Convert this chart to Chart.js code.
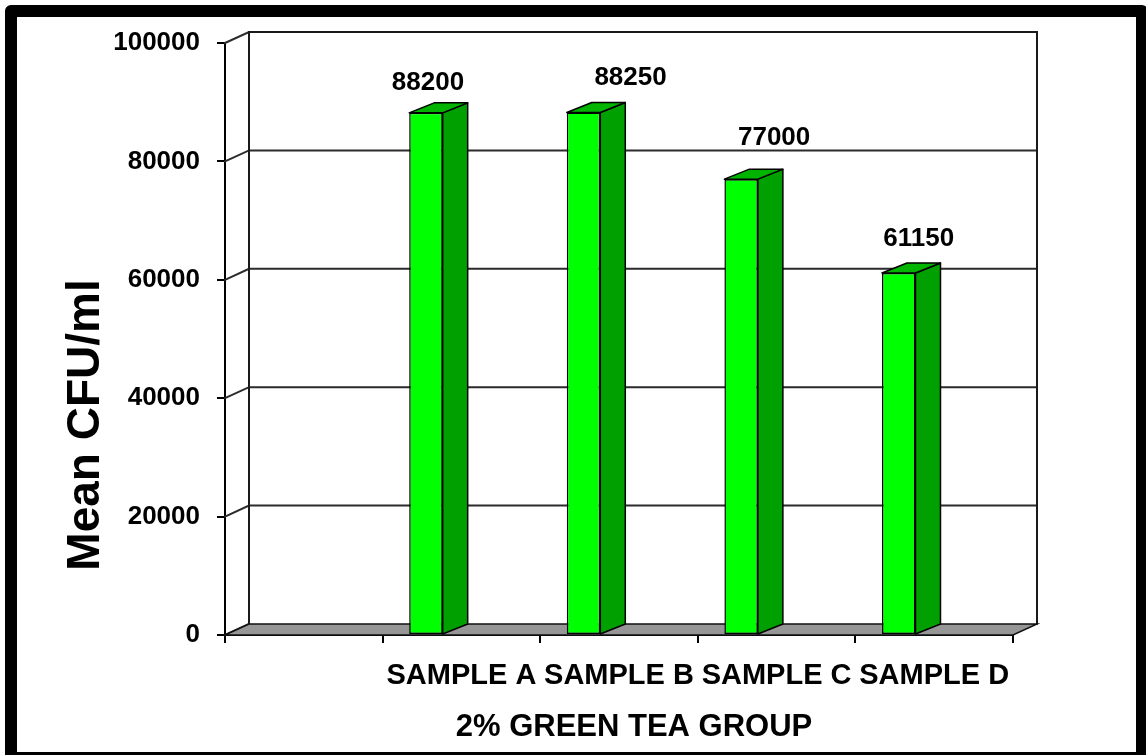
<!DOCTYPE html>
<html>
<head>
<meta charset="utf-8">
<title>2% Green Tea Group - Mean CFU/ml</title>
<script src="https://cdn.jsdelivr.net/npm/chart.js@4.4.1/dist/chart.umd.min.js"></script>
<style>
  html, body { margin: 0; padding: 0; background: #ffffff; }
  #wrap { width: 1146px; height: 755px; position: relative; }
  canvas { display: block; }
</style>
</head>
<body>
<div id="wrap"><canvas id="chart" width="1146" height="755"></canvas></div>
<script>
// ---- data ----
const categories = ['', 'SAMPLE A', 'SAMPLE B', 'SAMPLE C', 'SAMPLE D'];
const meanCfu = [null, 88200, 88250, 77000, 61150];
const yTickValues = [0, 20000, 40000, 60000, 80000, 100000];
const yAxisTitle = 'Mean CFU/ml';
const xAxisTitle = '2% GREEN TEA GROUP';

const FONT = '"Liberation Sans", Arial, Helvetica, sans-serif';
Chart.defaults.font.family = FONT;
Chart.defaults.color = '#000';

// 3-D look: walls, floor, side/top faces of the columns, value labels, frame
const box3d = {
  id: 'box3d',
  afterDatasetsUpdate(chart, args, opts) {
    // columns sit toward the front-left of each category slot
    const xs = chart.scales.x;
    const slot = xs.width / categories.length;
    chart.getDatasetMeta(0).data.forEach(el => { el.x -= slot * opts.shift; });
  },
  beforeDraw(chart) {
    const ctx = chart.ctx;
    ctx.save();
    ctx.fillStyle = '#fff';
    ctx.fillRect(0, 0, chart.width, chart.height);
    ctx.restore();
  },
  beforeDatasetsDraw(chart, args, opts) {
    const ctx = chart.ctx;
    const { left, right } = chart.chartArea;
    const y = chart.scales.y;
    const dx = opts.wallDx, dy = opts.wallDy;
    const top = y.getPixelForValue(y.max);
    const base = y.getPixelForValue(0);
    ctx.save();
    // back wall grid lines and side-wall connectors
    ctx.lineCap = 'round';
    yTickValues.forEach(v => {
      const py = y.getPixelForValue(v);
      ctx.strokeStyle = '#2b2b2b';
      ctx.lineWidth = 2;
      ctx.beginPath();
      ctx.moveTo(left, py);
      ctx.lineTo(left + dx, py + dy);
      if (v > 0) ctx.lineTo(right + dx, py + dy);
      ctx.stroke();
    });
    // wall edges
    ctx.strokeStyle = '#1a1a1a';
    ctx.lineWidth = 2;
    ctx.beginPath();
    ctx.moveTo(left + dx, base + dy);
    ctx.lineTo(left + dx, top + dy);
    ctx.lineTo(right + dx, top + dy);
    ctx.lineTo(right + dx, base + dy);
    ctx.stroke();
    // floor
    ctx.fillStyle = '#969696';
    ctx.beginPath();
    ctx.moveTo(left, base);
    ctx.lineTo(right, base);
    ctx.lineTo(right + dx, base + dy);
    ctx.lineTo(left + dx, base + dy);
    ctx.closePath();
    ctx.fill();
    ctx.strokeStyle = '#111';
    ctx.lineWidth = 1.5;
    ctx.stroke();
    ctx.restore();
  },
  afterDatasetsDraw(chart, args, opts) {
    const ctx = chart.ctx;
    const meta = chart.getDatasetMeta(0);
    const dx = opts.barDx, dy = opts.barDy;
    ctx.save();
    ctx.lineJoin = 'round';
    ctx.strokeStyle = '#000';
    ctx.lineWidth = 1.5;
    meta.data.forEach((el, i) => {
      if (meanCfu[i] == null) return;
      const p = el.getProps(['x', 'y', 'base', 'width'], true);
      const l = p.x - p.width / 2, r = p.x + p.width / 2;
      // side face
      ctx.fillStyle = opts.sideColor;
      ctx.beginPath();
      ctx.moveTo(r, p.y);
      ctx.lineTo(r + dx, p.y + dy);
      ctx.lineTo(r + dx, p.base + dy);
      ctx.lineTo(r, p.base);
      ctx.closePath();
      ctx.fill();
      ctx.stroke();
      // top face
      ctx.fillStyle = opts.topColor;
      ctx.beginPath();
      ctx.moveTo(l, p.y);
      ctx.lineTo(l + dx, p.y + dy);
      ctx.lineTo(r + dx, p.y + dy);
      ctx.lineTo(r, p.y);
      ctx.closePath();
      ctx.fill();
      ctx.stroke();
    });
    // value labels
    ctx.fillStyle = '#000';
    ctx.font = 'bold 26px ' + FONT;
    ctx.textAlign = 'center';
    ctx.textBaseline = 'middle';
    meta.data.forEach((el, i) => {
      if (meanCfu[i] == null) return;
      const n = opts.labelNudge[i];
      ctx.fillText(String(meanCfu[i]), el.x + n[0], el.y + n[1]);
    });
    ctx.restore();
  },
  afterDraw(chart) {
    const ctx = chart.ctx;
    ctx.save();
    ctx.fillStyle = '#000';
    // y-axis title
    ctx.font = 'bold 46px ' + FONT;
    ctx.textAlign = 'center';
    ctx.textBaseline = 'alphabetic';
    ctx.translate(99, 425);
    ctx.rotate(-Math.PI / 2);
    ctx.fillText(yAxisTitle, 0, 0);
    ctx.setTransform(1, 0, 0, 1, 0, 0);
    // x-axis title
    ctx.font = 'bold 31px ' + FONT;
    ctx.fillText(xAxisTitle, 634, 736);
    // outer frame
    ctx.strokeStyle = '#000';
    ctx.lineWidth = 12;
    ctx.lineJoin = 'round';
    ctx.strokeRect(11, 11, 1131, 747);
    ctx.restore();
  }
};

new Chart(document.getElementById('chart'), {
  type: 'bar',
  data: {
    labels: categories,
    datasets: [{
      label: yAxisTitle,
      data: meanCfu,
      backgroundColor: '#00ff00',
      borderColor: '#000',
      borderWidth: 1.5,
      borderSkipped: false,
      categoryPercentage: 1,
      barPercentage: 0.2125
    }]
  },
  options: {
    responsive: false,
    animation: false,
    events: [],
    layout: { padding: { left: 0, right: 133, top: 43, bottom: 0 } },
    plugins: {
      legend: { display: false },
      tooltip: { enabled: false },
      box3d: {
        shift: 0.225,
        wallDx: 24, wallDy: -11,
        barDx: 25, barDy: -10,
        sideColor: '#00a000',
        topColor: '#00b400',
        labelNudge: [[0, 0], [2, -30], [47, -35], [33, -41], [20, -34]]
      }
    },
    scales: {
      x: {
        afterFit(s) { s.height = 120; },
        grid: {
          offset: true,
          drawOnChartArea: false,
          color: '#000',
          tickColor: '#000',
          tickLength: 8,
          lineWidth: 2
        },
        border: { display: true, color: '#000', width: 2 },
        ticks: {
          autoSkip: false,
          maxRotation: 0,
          minRotation: 0,
          padding: 16,
          font: { size: 29, weight: 'bold' }
        }
      },
      y: {
        min: 0,
        max: 100000,
        afterFit(s) { s.width = 225; },
        afterBuildTicks(s) { s.ticks = yTickValues.map(v => ({ value: v })); },
        grid: {
          drawOnChartArea: false,
          color: '#000',
          tickColor: '#000',
          tickLength: 8,
          lineWidth: 2
        },
        border: { display: true, color: '#000', width: 2 },
        ticks: {
          padding: 17,
          font: { size: 26, weight: 'bold' },
          callback: v => String(v)
        }
      }
    }
  },
  plugins: [box3d]
});
</script>
</body>
</html>
